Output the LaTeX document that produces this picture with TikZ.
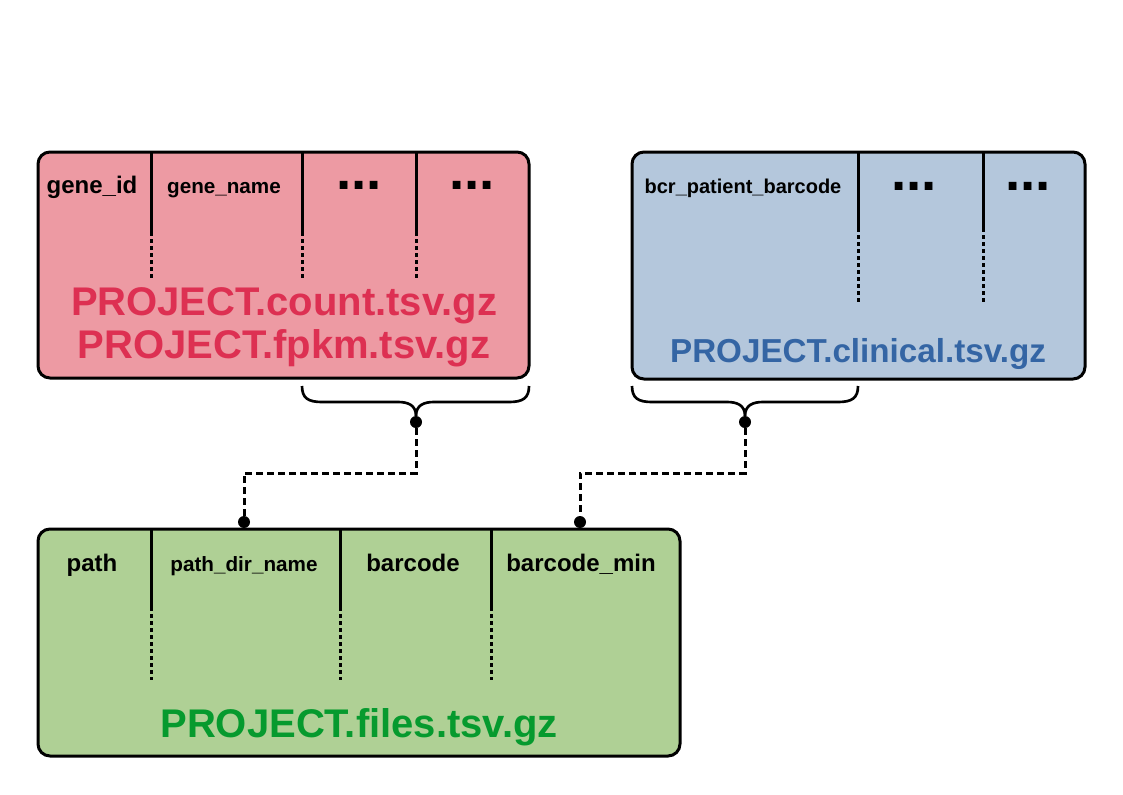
\documentclass[tikz,border=0pt]{standalone}
\usepackage{fontspec}
\setmainfont{Liberation Sans}
\usepackage{tikz}
\usetikzlibrary{calc}
\definecolor{countfill}{RGB}{237,154,163}
\definecolor{counttext}{RGB}{221,48,82}
\definecolor{clinfill}{RGB}{180,199,220}
\definecolor{clintext}{RGB}{52,101,164}
\definecolor{filesfill}{RGB}{175,208,149}
\definecolor{filestext}{RGB}{6,154,46}

\begin{document}
\begin{tikzpicture}[x=0.75pt,y=-0.75pt,
    tbl/.style={line width=2.25pt, rounded corners=9pt},
    divider/.style={line width=2.25pt},
    dotline/.style={line width=2.25pt, dash pattern=on 3pt off 2.25pt},
    conn/.style={line width=2.25pt, dash pattern=on 5pt off 3.25pt},
    brc/.style={line width=2pt},
    dot/.style={circle, fill=black, inner sep=0pt, minimum size=9pt},
    colname/.style={font=\fontsize{18}{20}\selectfont\bfseries, inner sep=0pt, anchor=base},
    smallname/.style={font=\fontsize{15.5}{18}\selectfont\bfseries, inner sep=0pt, anchor=base},
    more/.style={font=\fontsize{41}{45}\selectfont\bfseries, inner sep=0pt, anchor=base},
    title/.style={font=\fontsize{30}{32}\selectfont\bfseries, inner sep=0pt, anchor=base}]
    \useasboundingbox (0,0) rectangle (1123,794);
    % count / fpkm table
    \fill [countfill, rounded corners=9pt] (38,152) rectangle (529,378);
    \foreach \x in {151,302,416} {
        \draw [divider] (\x,152) -- (\x,232);
        \draw [dotline] (\x,232) -- (\x,280);
    }
    \draw [tbl] (38,152) rectangle (529,378);
    \node [colname] (geneid) at (92,193) {gene\_id};
    \node [smallname] (genename) at (224,193) {gene\_name};
    \node [more] (morea) at (359,189) {...};
    \node [more] (moreb) at (472,189) {...};
    \node [title, text=counttext] (countname) at (284,315) {PROJECT.count.tsv.gz};
    \node [title, text=counttext] (fpkmname) at (284,358) {PROJECT.fpkm.tsv.gz};
    % clinical table
    \fill [clinfill, rounded corners=9pt] (632,152) rectangle (1085,379);
    \foreach \x in {858,983} {
        \draw [divider] (\x,152) -- (\x,228);
        \draw [dotline] (\x,228) -- (\x,302);
    }
    \draw [tbl] (632,152) rectangle (1085,379);
    \node [smallname, font=\fontsize{15}{18}\selectfont\bfseries] (patient) at (743,193) {bcr\_patient\_barcode};
    \node [more] (morec) at (914,190) {...};
    \node [more] (mored) at (1028,190) {...};
    \node [title, font=\fontsize{24.9}{28}\selectfont\bfseries, text=clintext] (clinname) at (858,362) {PROJECT.clinical.tsv.gz};
    % files table
    \fill [filesfill, rounded corners=9pt] (38,529) rectangle (680,756);
    \foreach \x in {151,340,491} {
        \draw [divider] (\x,529) -- (\x,607);
        \draw [dotline] (\x,607) -- (\x,680);
    }
    \draw [tbl] (38,529) rectangle (680,756);
    \node [colname] (path) at (92,571) {path};
    \node [smallname] (pathdir) at (244,571) {path\_dir\_name};
    \node [colname] (barcode) at (413,571) {barcode};
    \node [colname] (barcodemin) at (581,571) {barcode\_min};
    \node [title, text=filestext] (filesname) at (359,737) {PROJECT.files.tsv.gz};
    % braces
    \foreach \a/\b/\m in {302/529/416,632/858/745} {
        \draw [brc] (\a,386) .. controls (\a,398) and ({\a+6},402) .. ({\a+20},402)
            -- ({\m-18},402) .. controls ({\m-8},402) and (\m,405) .. (\m,416);
        \draw [brc] (\m,416) .. controls (\m,405) and ({\m+8},402) .. ({\m+18},402)
            -- ({\b-20},402) .. controls ({\b-6},402) and (\b,398) .. (\b,386);
    }
    \node [dot] (joincount) at (416,422) {};
    \node [dot] (joinclin) at (745,422) {};
    \node [dot] (filesa) at (244,522) {};
    \node [dot] (filesb) at (580,522) {};
    \coordinate (linka) at (330,473);
    \coordinate (linkb) at (660,473);
    \draw [conn] (joincount) |- (linka) -| (filesa);
    \draw [conn] (joinclin) |- (linkb) -| (filesb);
\end{tikzpicture}
\end{document}
